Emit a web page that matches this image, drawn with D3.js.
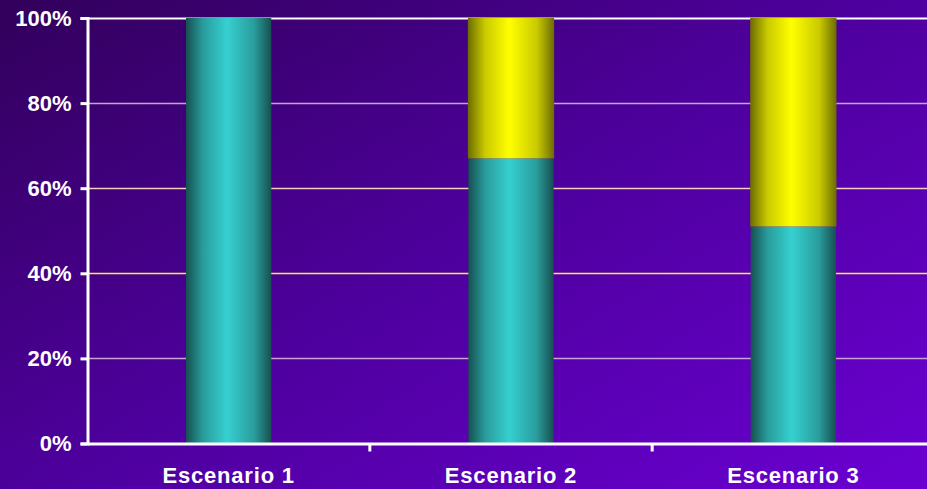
<!DOCTYPE html>
<html>
<head>
<meta charset="utf-8">
<script src="https://cdn.jsdelivr.net/npm/d3@7"></script>
<style>
  html, body { margin: 0; padding: 0; background: #3a006c; }
  svg { display: block; }
</style>
</head>
<body>
<svg id="chart" width="927" height="489"></svg>
<script>
// Stacked 100% columns per scenario
const categories = ["Escenario 1", "Escenario 2", "Escenario 3"];
const tealValues = [100, 67, 51];
const yellowValues = [0, 33, 49];
const yTicks = [0, 20, 40, 60, 80, 100];

const width = 927, height = 489;
const margin = { left: 87.5, top: 18, bottom: 45.5 };
const plotRight = 934.5; // last category band runs past the edge

const svg = d3.select("#chart");
const defs = svg.append("defs");

// Purple backdrop, darker at the upper left
const bg = defs.append("linearGradient").attr("id", "bg")
  .attr("x1", 0).attr("y1", 0.05).attr("x2", 1).attr("y2", 0.95);
bg.append("stop").attr("offset", 0).attr("stop-color", "#33005e");
bg.append("stop").attr("offset", 0.5).attr("stop-color", "#4e009e");
bg.append("stop").attr("offset", 1).attr("stop-color", "#6a00d0");
svg.append("rect").attr("width", width).attr("height", height).attr("fill", "url(#bg)");

// Cylinder-like shading for the columns
function cylinder(id, edge, mid, light) {
  const g = defs.append("linearGradient").attr("id", id)
    .attr("x1", 0).attr("y1", 0).attr("x2", 1).attr("y2", 0);
  [[0, edge], [0.2, mid], [0.48, light], [0.8, mid], [1, edge]]
    .forEach(([o, c]) => g.append("stop").attr("offset", o).attr("stop-color", c));
}
cylinder("teal", "#165050", "#2a9c9c", "#36d0d0");
cylinder("yellow", "#6c6c00", "#caca00", "#ffff00");

const x = d3.scaleBand().domain(categories)
  .range([margin.left, plotRight]).paddingInner(0).paddingOuter(0);
const y = d3.scaleLinear().domain([0, 100])
  .range([height - margin.bottom, margin.top]);

// Gridlines
const gridColors = { 20: "#c8a4d4", 40: "#f4f040", 60: "#f2d0bc", 80: "#c8a4d4", 100: "#ffffff" };
svg.append("g").selectAll("line").data(yTicks.filter(t => t > 0)).join("line")
  .attr("x1", margin.left).attr("x2", width)
  .attr("y1", d => Math.round(y(d)) + 0.5).attr("y2", d => Math.round(y(d)) + 0.5)
  .attr("stroke", d => gridColors[d])
  .attr("stroke-width", d => d === 100 ? 2 : 1.3);

// Columns
const barW = x.bandwidth() * 0.302;
const stack = categories.map((c, i) => ({ c, teal: tealValues[i], yellow: yellowValues[i] }));
const bars = svg.append("g");
bars.selectAll("rect.teal").data(stack).join("rect").attr("class", "teal")
  .attr("x", d => x(d.c) + x.bandwidth() / 2 - barW / 2)
  .attr("width", barW)
  .attr("y", d => y(d.teal))
  .attr("height", d => y(0) - y(d.teal))
  .attr("fill", "url(#teal)");
bars.selectAll("rect.yellow").data(stack.filter(d => d.yellow > 0)).join("rect").attr("class", "yellow")
  .attr("x", d => x(d.c) + x.bandwidth() / 2 - barW / 2 - 0.5)
  .attr("width", barW + 1)
  .attr("y", d => y(d.teal + d.yellow))
  .attr("height", d => y(d.teal) - y(d.teal + d.yellow))
  .attr("fill", "url(#yellow)");

// Y axis
const yAxis = svg.append("g").attr("transform", `translate(${margin.left},0)`)
  .call(d3.axisLeft(y).tickValues(yTicks).tickFormat(d => d + "%").tickSize(7).tickPadding(9));
yAxis.select(".domain").attr("stroke", "#fff").attr("stroke-width", 3);
yAxis.selectAll(".tick line").attr("stroke", "#fff").attr("stroke-width", 3);
yAxis.selectAll("text").attr("fill", "#fff")
  .style("font-family", "Liberation Sans, Arial, sans-serif")
  .style("font-weight", "bold").style("font-size", "22px");

// X axis
const xAxis = svg.append("g").attr("transform", `translate(0,${y(0)})`)
  .call(d3.axisBottom(x).tickSize(0).tickPadding(24));
xAxis.select(".domain").attr("stroke", "#fff").attr("stroke-width", 3);
xAxis.selectAll("text").attr("fill", "#fff")
  .style("font-family", "Liberation Sans, Arial, sans-serif")
  .style("font-weight", "bold").style("font-size", "22px")
  .style("letter-spacing", "0.8px");
// Category separators below the axis
xAxis.append("g").selectAll("line").data(categories.slice(1)).join("line")
  .attr("x1", d => x(d)).attr("x2", d => x(d))
  .attr("y1", 0).attr("y2", 8)
  .attr("stroke", "#fff").attr("stroke-width", 3);
</script>
</body>
</html>
